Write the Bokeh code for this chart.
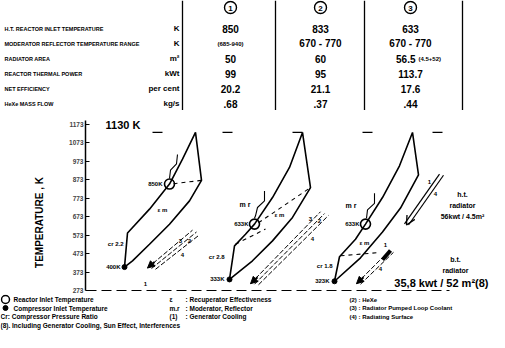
from math import pi
from bokeh.plotting import figure
from bokeh.layouts import column, row
from bokeh.models import Range1d, FixedTicker, Arrow, NormalHead, OpenHead
from bokeh.core.properties import value
from bokeh.embed import file_html
from bokeh.resources import INLINE

FONT = value("Liberation Sans")

# ---------------- table data ----------------
row_labels = ["H.T. REACTOR INLET TEMPERATURE", "MODERATOR REFLECTOR TEMPERATURE RANGE",
              "RADIATOR AREA", "REACTOR THERMAL POWER", "NET EFFICIENCY", "HeXe MASS FLOW"]
row_units = ["K", "K", "m²", "kWt", "per cent", "kg/s"]
case_numbers = ["1", "2", "3"]
case1_values = ["850", "(685-940)", "50", "99", "20.2", ".68"]
case2_values = ["833", "670 - 770", "60", "95", "21.1", ".37"]
case3_values = ["633", "670 - 770", "56.5", "113.7", "17.6", ".44"]
case3_area_split = ["(4.5+52)"]

# ---------------- T-s diagram data ----------------
temperature_ticks = [273, 373, 473, 573, 673, 773, 873, 973, 1073, 1173]
t_max = 1130
cycle1_s = [4.0, 4.3, 6.5, 8.5, 9.8, 11.1, 11.7, 10.5, 8.5, 6.5, 4.8, 4.0]
cycle1_T = [400, 585, 714, 850, 985, 1130, 870, 759, 632, 524, 434, 400]
cycle2_s = [14.5, 15.0, 16.1, 17.0, 18.8, 20.5, 21.8, 22.6, 20.8, 18.8, 16.8, 14.5]
cycle2_T = [333, 515, 578, 633, 777, 940, 1130, 831, 669, 542, 434, 333]
cycle3_s = [25.0, 25.5, 27.1, 28.1, 29.8, 31.5, 32.8, 33.4, 31.6, 29.8, 27.6, 25.0]
cycle3_T = [323, 456, 551, 633, 777, 949, 1130, 900, 720, 590, 450, 323]

reactor_inlet_s = [8.5, 17.0, 28.1]
reactor_inlet_T = [850, 633, 633]
reactor_inlet_text = ["850K", "633K", "633K"]
comp_inlet_s = [4.0, 14.5, 25.0]
comp_inlet_T = [400, 333, 323]
comp_inlet_text = ["400K", "333K", "323K"]
pressure_ratio_text = ["cr 2.2", "cr 2.8", "cr 1.8"]
effectiveness_text = ["ε m", "ε m", "ε m"]
moderator_text = ["m r", "m r"]

hook_s = [[8.5, 8.6, 9.2, 9.3], [17.0, 17.1, 17.3, 18.0, 18.0], [28.2, 28.3, 29.0, 29.0]]
hook_T = [[880, 925, 960, 1010], [665, 678, 723, 759, 813], [665, 710, 745, 800]]
recup_s = [[8.9, 11.7], [17.4, 22.6], [15.1, 18.1], [25.6, 29.5]]
recup_T = [[852, 870], [640, 831], [524, 606], [461, 479]]
rad_s = [[6.3, 10.8], [6.7, 11.2], [7.1, 11.5],
         [16.6, 23.6], [17.0, 24.0], [17.4, 24.4],
         [27.2, 30.5], [27.6, 30.9]]
rad_T = [[395, 600], [392, 590], [388, 575],
         [310, 700], [307, 690], [304, 680],
         [310, 490], [307, 480]]
rad_head_s = [(7.0, 6.3), (17.3, 16.6), (27.9, 27.2)]
rad_head_T = [(428, 395), (345, 310), (345, 310)]
ht_s = [[35.5, 32.0], [35.9, 32.4]]
ht_T = [[904, 634], [898, 628]]
ht_head = (33.0, 32.2, 705, 628)
rad_numbers = ["3", "2", "4", "1", "3", "2", "4", "1", "4", "1", "4"]
rad_numbers_s = [9.6, 10.5, 9.8, 6.1, 22.6, 23.5, 22.8, 30.1, 29.6, 34.5, 35.1]
rad_numbers_T = [544, 544, 468, 306, 658, 650, 550, 522, 387, 859, 794]

ht_text = ["h.t.", "radiator", "56kwt / 4.5m²"]
bt_text = ["b.t.", "radiator"]
bt_total = ["35,8 kwt / 52 m²(8)"]
axis_title = ["TEMPERATURE , K"]

# ---------------- legend data ----------------
legend_col1 = ["Reactor Inlet Temperature", "Compressor Inlet Temperature",
               "Cr: Compressor Pressure Ratio",
               "(8). Including Generator Cooling, Sun Effect, Interferences"]
legend_col2_keys = ["ε", "m.r", "(1)"]
legend_col2 = [": Recuperator Effectiveness", ": Moderator, Reflector", ": Generator Cooling"]
legend_col3 = ["(2) : HeXe", "(3) : Radiator Pumped Loop Coolant", "(4) : Radiating Surface"]


def txt(fig, xs, ys, texts, size, align="left", baseline="middle", angle=0.0):
    fig.text(x=xs, y=ys, text=texts, text_font=FONT, text_font_size=size,
             text_font_style="bold", text_align=align, text_baseline=baseline,
             text_color="black", angle=angle)


def blank(width, height):
    f = figure(width=width, height=height, x_range=Range1d(0, width), y_range=Range1d(height, 0),
               toolbar_location=None, output_backend="svg", min_border=0,
               x_axis_location=None, y_axis_location=None, outline_line_color=None)
    f.grid.visible = False
    return f


# ---------------- table ----------------
TH = 110
t = blank(489, TH)
row_y = [28, 43, 58, 73, 88, 103]
col_x = [230, 320, 410]
sep_x = [182, 275, 364, 462]
t.segment(x0=sep_x, y0=[0] * 4, x1=sep_x, y1=[TH] * 4, line_color="black", line_width=1.3)
t.scatter(x=col_x, y=[7] * 3, marker="circle", size=12, fill_color=None,
          line_color="black", line_width=1.4)
txt(t, col_x, [7.5] * 3, case_numbers, "8px", align="center")
txt(t, [4] * 6, row_y, row_labels, "5.5px")
txt(t, [179] * 6, row_y, row_units, "8px", align="right")
txt(t, [col_x[0]] * 6, row_y, [v if i != 1 else "" for i, v in enumerate(case1_values)], "10px", align="center")
txt(t, [col_x[0]], [row_y[1]], [case1_values[1]], "6px", align="center")
txt(t, [col_x[1]] * 6, row_y, case2_values, "10px", align="center")
txt(t, [col_x[2]] * 6, row_y, [v if i != 2 else "" for i, v in enumerate(case3_values)], "10px", align="center")
txt(t, [415], [row_y[2]], [case3_values[2]], "10px", align="right")
txt(t, [418], [row_y[2]], case3_area_split, "6px")

# ---------------- T-s diagram ----------------
PH = 184
side = blank(60, PH)
txt(side, [39], [112], axis_title, "10px", align="center", angle=pi / 2)

p = figure(width=429, height=PH, x_range=Range1d(0.1, 40.5), y_range=Range1d(251.31, 1248.9),
           x_axis_location=None, y_axis_location="left", toolbar_location=None,
           output_backend="svg", min_border_left=25, min_border_right=0,
           min_border_top=0, min_border_bottom=0, outline_line_color=None)
p.grid.visible = False
ax = p.yaxis[0]
ax.ticker = FixedTicker(ticks=temperature_ticks)
ax.bounds = (273, 1195)
ax.major_tick_in = 4
ax.major_tick_out = 0
ax.minor_tick_line_color = None
ax.axis_line_width = 1.5
ax.major_tick_line_width = 1.2
ax.major_label_standoff = 2
ax.major_label_text_font = "Liberation Sans"
ax.major_label_text_font_style = "bold"
ax.major_label_text_font_size = "6.5px"

p.line([0.2, 36.5], [273, 273], line_dash="10 5", line_color="black", line_width=1.2)
p.line([6.8, 37.0], [t_max, t_max], line_dash="10 60", line_color="black", line_width=1.2)
txt(p, [2.1], [1168], [f"{t_max} K"], "11px")

for s_, T_ in [(cycle1_s, cycle1_T), (cycle2_s, cycle2_T), (cycle3_s, cycle3_T)]:
    p.line(s_, T_, line_color="black", line_width=1.6)

p.multi_line(hook_s, hook_T, line_color="black", line_width=1.1)
p.multi_line(recup_s, recup_T, line_color="black", line_width=1.1, line_dash="4 4")
p.multi_line(rad_s, rad_T, line_color="black", line_width=1.0, line_dash="5 2")
for (xs, xe), (ys, ye) in zip(rad_head_s, rad_head_T):
    p.add_layout(Arrow(end=NormalHead(size=7, fill_color="black", line_color="black"),
                       x_start=xs, y_start=ys, x_end=xe, y_end=ye, line_width=2))
p.line([29.8, 30.6], [440, 490], line_color="black", line_width=4)
p.multi_line(ht_s, ht_T, line_color="black", line_width=1.2)
p.add_layout(Arrow(end=OpenHead(size=9, line_color="black", line_width=1.3),
                   x_start=ht_head[0], x_end=ht_head[1], y_start=ht_head[2], y_end=ht_head[3],
                   line_alpha=0))

p.scatter(reactor_inlet_s, reactor_inlet_T, marker="circle", size=10, fill_color=None,
          line_color="black", line_width=1.6)
p.scatter(comp_inlet_s, comp_inlet_T, marker="circle", size=5, fill_color="black",
          line_color="black")

txt(p, [7.8, 16.4, 27.5], reactor_inlet_T, reactor_inlet_text, "6px", align="right")
txt(p, [3.6, 14.0, 24.5], comp_inlet_T, comp_inlet_text, "6px", align="right")
txt(p, [3.9, 14.0, 24.8], [524, 452, 408], pressure_ratio_text, "6px", align="right")
txt(p, [7.3, 19.0, 27.5], [712, 680, 533], effectiveness_text, "6px")
txt(p, [15.5, 26.1], [739, 734], moderator_text, "7px")
txt(p, rad_numbers_s, rad_numbers_T, rad_numbers, "6px", align="center")
txt(p, [37.8] * 3, [794, 734, 674], ht_text, "7px", align="center")
txt(p, [37.1] * 2, [441, 381], bt_text, "7px", align="center")
txt(p, [40.4], [316], bt_total, "11px", align="right")

# ---------------- legend ----------------
LH = 38
lg = blank(489, LH)
leg_y = [5, 13.5, 22, 30.5]
lg.scatter(x=[5], y=[leg_y[0]], marker="circle", size=8, fill_color=None,
           line_color="black", line_width=1.5)
lg.scatter(x=[5], y=[leg_y[1]], marker="circle", size=5, fill_color="black", line_color="black")
txt(lg, [13, 13, 0, 0], leg_y, legend_col1, "6.5px")
txt(lg, [169] * 3, leg_y[:3], legend_col2_keys, "6.5px")
txt(lg, [185] * 3, leg_y[:3], legend_col2, "6.5px")
txt(lg, [349] * 3, leg_y[:3], legend_col3, "6px")

layout = column(t, row(side, p, spacing=0), lg, spacing=0)
open("out.html", "w").write(file_html(layout, INLINE))
